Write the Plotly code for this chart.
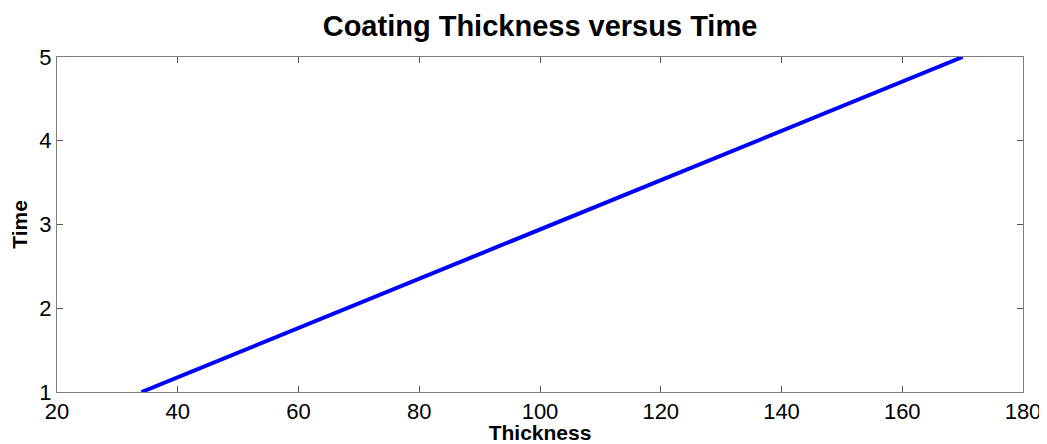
import plotly.graph_objects as go

time = [1, 2, 3, 4, 5]
thickness = [34, 68, 102, 136, 170]
x_ticks = [20, 40, 60, 80, 100, 120, 140, 160, 180]
y_ticks = [1, 2, 3, 4, 5]

FONT = "Liberation Sans, Arial"

# The page body has an 8px default margin, so the figure is sized to fill the rest.
W, H = 1039, 436

fig = go.Figure()
fig.add_trace(go.Scatter(x=thickness, y=time, mode="lines",
                         line=dict(color="#0000ff", width=4), showlegend=False))

axis_common = dict(showgrid=False, zeroline=False, showline=True, linecolor="#7f7f7f",
                   linewidth=1, mirror="ticks", ticks="inside", ticklen=6,
                   tickcolor="#555555", automargin=False,
                   tickfont=dict(family=FONT, size=22, color="black"))

fig.update_layout(
    width=W, height=H,
    paper_bgcolor="white", plot_bgcolor="white",
    margin=dict(l=49, r=24, t=49, b=52),
    title=dict(text="<b>Coating Thickness versus Time</b>", x=0.5, xanchor="center",
               xref="paper", yref="container", y=1 - 18 / H, yanchor="middle",
               font=dict(family=FONT, size=29, color="black")),
    xaxis=dict(range=[20, 180], tickvals=x_ticks,
               title=dict(text="<b>Thickness</b>", standoff=4,
                          font=dict(family=FONT, size=21, color="black")),
               **axis_common),
    yaxis=dict(range=[1, 5], tickvals=y_ticks,
               title=dict(text="<b>Time</b>", standoff=7,
                          font=dict(family=FONT, size=21, color="black")),
               **axis_common),
)
fig.write_html("out.html")
